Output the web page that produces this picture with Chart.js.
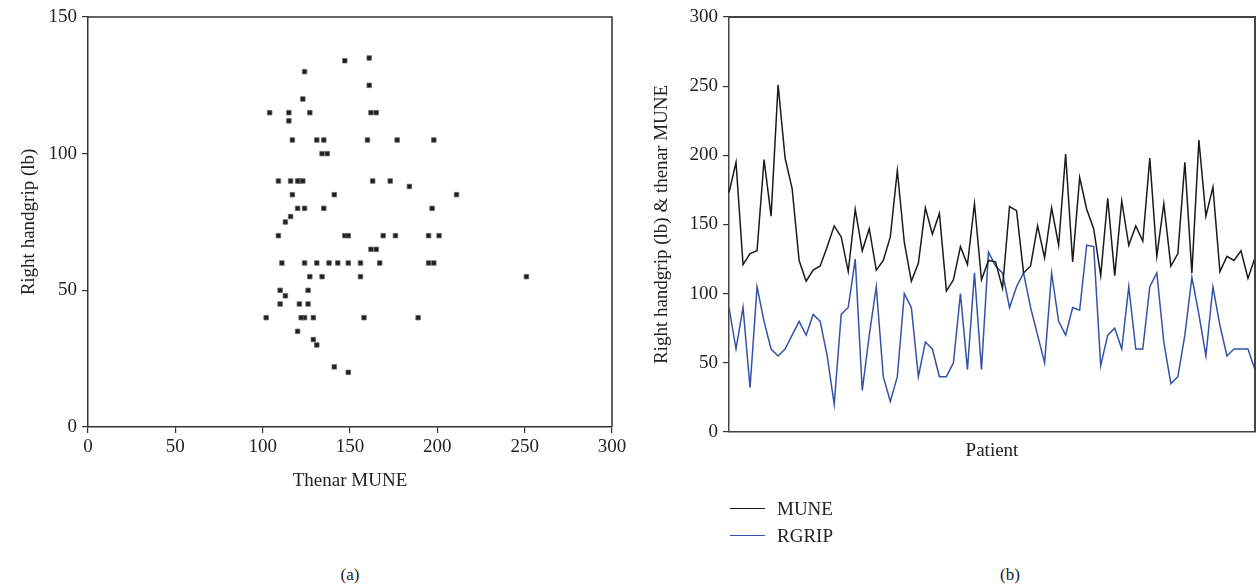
<!DOCTYPE html>
<html>
<head>
<meta charset="utf-8">
<script src="https://cdn.jsdelivr.net/npm/chart.js@4.4.1/dist/chart.umd.min.js"></script>
<style>
  body { margin: 0; background: #fff; width: 1257px; height: 587px; position: relative; overflow: hidden; font-family: 'Liberation Serif', serif; color: #222; }
  canvas { position: absolute; top: 0; }
  #chart-a { left: 0; }
  #chart-b { left: 640px; }
  .caption { position: absolute; top: 565px; font-size: 17px; transform: translateX(-50%); }
  #legend { position: absolute; left: 730px; top: 495px; font-size: 19px; }
  #legend div { height: 27px; line-height: 22px; display: flex; align-items: center; }
  #legend span.swatch { display: inline-block; width: 35px; height: 0; border-top: 1.5px solid; margin-right: 12px; }
</style>
</head>
<body>
<canvas id="chart-a" width="640" height="500"></canvas>
<canvas id="chart-b" width="617" height="500"></canvas>
<div id="legend"></div>
<div class="caption" style="left:350px">(a)</div>
<div class="caption" style="left:1010px">(b)</div>
<script>
// Thenar MUNE per patient (also the x of the scatter)
const mune = [173, 195, 121, 129, 131, 197, 156, 251, 198, 176,
  124, 109, 117, 120, 134, 149, 141, 116, 161, 131,
  147, 117, 124, 141, 189, 137, 109, 122, 162, 143,
  158, 102, 110, 134, 121, 165, 110, 124, 123, 104,
  163, 160, 115, 120, 149, 126, 162, 135, 201, 123,
  184, 161, 147, 113, 169, 113, 167, 135, 149, 138,
  198, 127, 165, 120, 129, 195, 115, 211, 156, 177,
  116, 127, 124, 131, 111, 126];

// Right handgrip (lb) per patient
const rgrip = [90, 60, 90, 32, 105, 80, 60, 55, 60, 70,
  80, 70, 85, 80, 55, 20, 85, 90, 125, 30,
  70, 105, 40, 22, 40, 100, 90, 40, 65, 60,
  40, 40, 50, 100, 45, 115, 45, 130, 120, 115,
  90, 105, 115, 90, 70, 50, 115, 80, 70, 90,
  88, 135, 134, 48, 70, 75, 60, 105, 60, 60,
  105, 115, 65, 35, 40, 70, 112, 85, 55, 105,
  77, 55, 60, 60, 60, 45];

const patients = mune.map((_, i) => i + 1);
const scatterTicks = [0, 50, 100, 150, 200, 250, 300];

const FONT = { family: "'Liberation Serif', serif", size: 19 };
const INK = '#222';

// top and right edges of the plot box
const frame = {
  id: 'frame',
  afterDraw(chart, args, opts) {
    const { ctx, chartArea: a } = chart;
    ctx.save();
    ctx.strokeStyle = opts.color || '#333';
    ctx.lineWidth = opts.width || 1.5;
    ctx.beginPath();
    ctx.moveTo(a.left, a.top);
    ctx.lineTo(a.right, a.top);
    ctx.lineTo(a.right, a.bottom);
    ctx.stroke();
    ctx.restore();
  }
};

Chart.defaults.font = FONT;
Chart.defaults.color = INK;
Chart.defaults.animation = false;

// (a) scatter
new Chart(document.getElementById('chart-a'), {
  type: 'scatter',
  data: {
    datasets: [{
      data: mune.map((m, i) => ({ x: m, y: rgrip[i] })),
      pointStyle: 'rect',
      radius: 3.2,
      backgroundColor: '#1e1e1e',
      borderColor: '#666',
      borderWidth: 0.8,
    }]
  },
  options: {
    responsive: false,
    layout: { padding: { top: 17, right: 28, left: 0, bottom: 0 } },
    plugins: { legend: { display: false }, tooltip: { enabled: false }, frame: { color: '#333', width: 1.5 } },
    scales: {
      x: {
        type: 'linear', min: 0, max: 300,
        afterBuildTicks: s => { s.ticks = scatterTicks.map(v => ({ value: v })); },
        afterFit: s => { s.height = 73; },
        grid: { drawOnChartArea: false, drawTicks: true, tickLength: 6, color: '#333', lineWidth: 1.2 },
        border: { color: '#333', width: 1.5 },
        ticks: { padding: 3, color: INK, font: FONT },
        title: { display: true, text: 'Thenar MUNE', font: FONT, color: INK, padding: { top: 0, bottom: 8 } }
      },
      y: {
        min: 0, max: 150,
        ticks: { stepSize: 50, padding: 5, color: INK, font: FONT },
        afterFit: s => { s.width = 88; },
        grid: { drawOnChartArea: false, drawTicks: true, tickLength: 6, color: '#333', lineWidth: 1.2 },
        border: { color: '#333', width: 1.5 },
        title: { display: true, text: 'Right handgrip (lb)', font: FONT, color: INK, padding: { top: 18, bottom: 0 } }
      }
    }
  },
  plugins: [frame]
});

// (b) line chart per patient
const chartB = new Chart(document.getElementById('chart-b'), {
  type: 'line',
  data: {
    labels: patients,
    datasets: [
      { label: 'MUNE', data: mune, borderColor: '#1a1a1a', borderWidth: 1.5, pointRadius: 0, tension: 0 },
      { label: 'RGRIP', data: rgrip, borderColor: '#3453a8', borderWidth: 1.5, pointRadius: 0, tension: 0 }
    ]
  },
  options: {
    responsive: false,
    layout: { padding: { top: 17, right: 2, left: 0, bottom: 0 } },
    plugins: { legend: { display: false }, tooltip: { enabled: false }, frame: { color: '#444', width: 2 } },
    scales: {
      x: {
        ticks: { display: false },
        afterFit: s => { s.height = 68; },
        grid: { display: false },
        border: { color: '#444', width: 1.5 },
        title: { display: true, text: 'Patient', font: FONT, color: INK, padding: { top: 0, bottom: 38 } }
      },
      y: {
        min: 0, max: 300,
        ticks: { stepSize: 50, padding: 5, color: INK, font: FONT },
        afterFit: s => { s.width = 89; },
        grid: { drawOnChartArea: false, drawTicks: true, tickLength: 6, color: '#333', lineWidth: 1.2 },
        border: { color: '#444', width: 1.5 },
        title: { display: true, text: 'Right handgrip (lb) & thenar MUNE', font: FONT, color: INK, padding: { top: 11, bottom: 0 } }
      }
    }
  },
  plugins: [frame]
});

// legend stacked under chart (b)
const legend = document.getElementById('legend');
chartB.data.datasets.forEach(ds => {
  const row = document.createElement('div');
  const sw = document.createElement('span');
  sw.className = 'swatch';
  sw.style.borderColor = ds.borderColor;
  row.appendChild(sw);
  row.appendChild(document.createTextNode(ds.label));
  legend.appendChild(row);
});
</script>
</body>
</html>
